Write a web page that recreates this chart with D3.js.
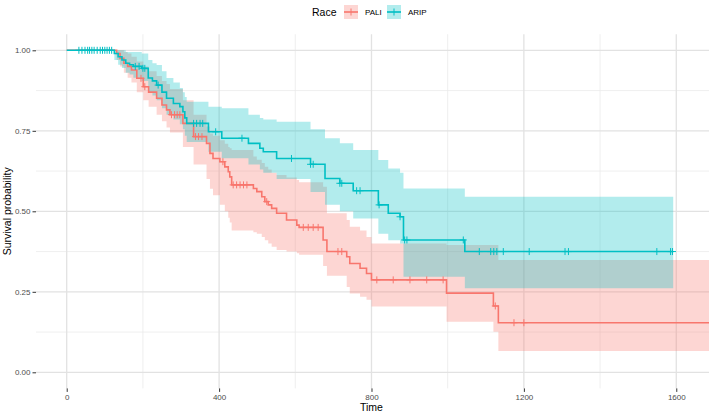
<!DOCTYPE html>
<html>
<head>
<meta charset="utf-8">
<script src="https://cdn.jsdelivr.net/npm/d3@7"></script>
<style>
  body { margin: 0; background: #fff; }
  svg text { font-family: "Liberation Sans", Arial, sans-serif; }
</style>
</head>
<body>
<div id="chart"></div>
<script>
// ---- data ----
const groups = ["PALI", "ARIP"];
const colors = ["#F8766D", "#00BFC4"];

// PALI: time of each step, survival after it, lower / upper CI
const paliTime  = [0, 131, 140, 150, 160, 170, 184, 201, 215, 236, 250, 262, 271, 305, 333, 367, 376, 384, 402, 415, 424, 428, 433, 490, 499, 512, 520, 529, 538, 551, 577, 604, 610, 673, 683, 735, 743, 770, 787, 800, 997, 1120, 1133];
const paliSurv  = [1, 0.99, 0.975, 0.96, 0.95, 0.939, 0.913, 0.887, 0.87, 0.851, 0.83, 0.815, 0.80, 0.773, 0.732, 0.711, 0.68, 0.664, 0.654, 0.638, 0.623, 0.607, 0.582, 0.571, 0.561, 0.545, 0.53, 0.52, 0.509, 0.494, 0.473, 0.457, 0.45, 0.411, 0.375, 0.359, 0.338, 0.323, 0.307, 0.287, 0.246, 0.206, 0.154];
const paliLower = [1, 0.97, 0.95, 0.93, 0.915, 0.90, 0.87, 0.845, 0.825, 0.80, 0.78, 0.76, 0.745, 0.70, 0.645, 0.60, 0.57, 0.55, 0.52, 0.50, 0.48, 0.465, 0.44, 0.435, 0.43, 0.42, 0.41, 0.40, 0.39, 0.38, 0.375, 0.37, 0.365, 0.33, 0.30, 0.265, 0.245, 0.235, 0.225, 0.204, 0.157, 0.126, 0.066];
const paliUpper = [1, 1, 1, 0.995, 0.99, 0.98, 0.965, 0.95, 0.935, 0.92, 0.905, 0.895, 0.88, 0.845, 0.80, 0.763, 0.742, 0.735, 0.721, 0.71, 0.70, 0.696, 0.69, 0.67, 0.66, 0.65, 0.638, 0.63, 0.62, 0.613, 0.605, 0.597, 0.59, 0.576, 0.494, 0.473, 0.452, 0.44, 0.42, 0.40, 0.395, 0.395, 0.349];
const paliEnd = 1700;
const paliCensor = [195, 205, 275, 283, 290, 297, 338, 346, 355, 410, 437, 446, 455, 464, 473, 525, 621, 634, 647, 660, 712, 722, 814, 857, 901, 945, 988, 1125, 1174, 1200];

// ARIP
const aripTime  = [0, 125, 135, 145, 155, 165, 175, 197, 214, 225, 236, 250, 262, 280, 297, 305, 310, 315, 372, 407, 477, 507, 516, 551, 640, 678, 717, 752, 818, 844, 875, 884, 1045];
const aripSurv  = [1, 0.99, 0.98, 0.97, 0.96, 0.955, 0.95, 0.944, 0.914, 0.905, 0.892, 0.87, 0.851, 0.835, 0.825, 0.809, 0.79, 0.773, 0.747, 0.727, 0.711, 0.696, 0.685, 0.664, 0.646, 0.602, 0.587, 0.564, 0.52, 0.494, 0.483, 0.411, 0.375];
const aripLower = [1, 0.97, 0.955, 0.945, 0.93, 0.925, 0.915, 0.905, 0.87, 0.86, 0.845, 0.82, 0.80, 0.785, 0.77, 0.755, 0.735, 0.715, 0.685, 0.665, 0.645, 0.63, 0.62, 0.60, 0.56, 0.52, 0.50, 0.478, 0.43, 0.41, 0.40, 0.297, 0.261];
const aripUpper = [1, 1, 1, 1, 0.995, 0.995, 0.995, 0.99, 0.97, 0.96, 0.954, 0.935, 0.914, 0.90, 0.883, 0.87, 0.855, 0.84, 0.825, 0.82, 0.80, 0.79, 0.785, 0.778, 0.755, 0.727, 0.711, 0.69, 0.659, 0.633, 0.62, 0.571, 0.545];
const aripEnd = 1592;
const aripCensor = [32, 40, 48, 55, 60, 66, 72, 80, 88, 94, 100, 106, 112, 118, 180, 190, 200, 205, 240, 333, 341, 350, 357, 391, 460, 590, 640, 647, 717, 722, 761, 770, 820, 875, 887, 893, 1041, 1083, 1113, 1121, 1129, 1146, 1214, 1308, 1317, 1549, 1585, 1590];

const xMajor = [0, 400, 800, 1200, 1600];
const xMinor = [200, 600, 1000, 1400];
const yMajor = [0, 0.25, 0.5, 0.75, 1];
const yMinor = [0.125, 0.375, 0.625, 0.875];

// ---- layout ----
const W = 709, H = 414;
const panel = {left: 36, right: 711.7, top: 34.2, bottom: 388.4};

const x = d3.scaleLinear().domain([-80.6, 1693]).range([panel.left, panel.right]);
const y = d3.scaleLinear().domain([-0.05, 1.05]).range([panel.bottom, panel.top]);

const svg = d3.select("#chart").append("svg").attr("width", W).attr("height", H);

svg.append("defs").append("clipPath").attr("id", "clip")
  .append("rect").attr("x", panel.left).attr("y", panel.top)
  .attr("width", panel.right - panel.left).attr("height", panel.bottom - panel.top);

// grid
const grid = svg.append("g");
grid.selectAll("line.ymin").data(yMinor).enter().append("line")
  .attr("x1", panel.left).attr("x2", panel.right)
  .attr("y1", d => y(d)).attr("y2", d => y(d))
  .attr("stroke", "#ebebeb").attr("stroke-width", 0.8);
grid.selectAll("line.xmin").data(xMinor).enter().append("line")
  .attr("y1", panel.top).attr("y2", panel.bottom)
  .attr("x1", d => x(d)).attr("x2", d => x(d))
  .attr("stroke", "#ebebeb").attr("stroke-width", 0.8);
grid.selectAll("line.ymaj").data(yMajor).enter().append("line")
  .attr("x1", panel.left).attr("x2", panel.right)
  .attr("y1", d => y(d)).attr("y2", d => y(d))
  .attr("stroke", "#e2e2e2").attr("stroke-width", 1.3);
grid.selectAll("line.xmaj").data(xMajor).enter().append("line")
  .attr("y1", panel.top).attr("y2", panel.bottom)
  .attr("x1", d => x(d)).attr("x2", d => x(d))
  .attr("stroke", "#e2e2e2").attr("stroke-width", 1.3);

// build series
function makeSeries(time, surv, lower, upper, end, censor) {
  let rows = time.map((t, i) => ({t: t, s: surv[i], lo: lower[i], up: upper[i]}));
  let last = rows[rows.length - 1];
  rows.push({t: end, s: last.s, lo: last.lo, up: last.up});
  let marks = censor.map(c => {
    let i = d3.bisectRight(time, c) - 1;
    return {t: c, s: surv[i]};
  });
  return {rows: rows, marks: marks};
}
const series = [
  makeSeries(paliTime, paliSurv, paliLower, paliUpper, paliEnd, paliCensor),
  makeSeries(aripTime, aripSurv, aripLower, aripUpper, aripEnd, aripCensor)
];

const plot = svg.append("g").attr("clip-path", "url(#clip)");

const area = d3.area().curve(d3.curveStepAfter)
  .x(d => x(d.t)).y0(d => y(d.lo)).y1(d => y(d.up));
const line = d3.line().curve(d3.curveStepAfter)
  .x(d => x(d.t)).y(d => y(d.s));

series.forEach((s, i) => {
  plot.append("path").datum(s.rows).attr("d", area)
    .attr("fill", colors[i]).attr("fill-opacity", 0.3);
});
series.forEach((s, i) => {
  plot.append("path").datum(s.rows).attr("d", line)
    .attr("fill", "none").attr("stroke", colors[i]).attr("stroke-width", 1.6);
  let g = plot.append("g").attr("stroke", colors[i]).attr("stroke-width", 1);
  g.selectAll("line.v").data(s.marks).enter().append("line")
    .attr("x1", d => x(d.t)).attr("x2", d => x(d.t))
    .attr("y1", d => y(d.s) - 3.5).attr("y2", d => y(d.s) + 3.5);
  g.selectAll("line.h").data(s.marks).enter().append("line")
    .attr("x1", d => x(d.t) - 3.5).attr("x2", d => x(d.t) + 3.5)
    .attr("y1", d => y(d.s)).attr("y2", d => y(d.s));
});

// axes
const xAxis = d3.axisBottom(x).tickValues(xMajor).tickSize(3.5).tickPadding(2)
  .tickFormat(d3.format("d"));
const yAxis = d3.axisLeft(y).tickValues(yMajor).tickSize(3.5).tickPadding(2)
  .tickFormat(d3.format(".2f"));

const gx = svg.append("g").attr("transform", `translate(0,${panel.bottom})`).call(xAxis);
const gy = svg.append("g").attr("transform", `translate(${panel.left},0)`).call(yAxis);
[gx, gy].forEach(g => {
  g.select(".domain").remove();
  g.selectAll(".tick line").attr("stroke", "#333").attr("stroke-width", 1);
  g.selectAll(".tick text").attr("fill", "#4d4d4d").style("font-size", "8px");
});

svg.append("text").attr("x", x(800)).attr("y", 411)
  .attr("text-anchor", "middle").style("font-size", "10.5px").attr("fill", "#000")
  .text("Time");
svg.append("text")
  .attr("transform", `translate(11,${(panel.top + panel.bottom) / 2}) rotate(-90)`)
  .attr("text-anchor", "middle").style("font-size", "10.5px").attr("fill", "#000")
  .text("Survival probability");

// legend
const legend = svg.append("g");
legend.append("text").attr("x", 312).attr("y", 15.5)
  .style("font-size", "10.5px").text("Race");
const keyX = [344, 387];
groups.forEach((name, i) => {
  let k = legend.append("g").attr("transform", `translate(${keyX[i]},5)`);
  k.append("rect").attr("width", 14).attr("height", 14)
    .attr("fill", colors[i]).attr("fill-opacity", 0.3);
  k.append("line").attr("x1", 0).attr("x2", 14).attr("y1", 7).attr("y2", 7)
    .attr("stroke", colors[i]).attr("stroke-width", 1.6);
  k.append("line").attr("x1", 7).attr("x2", 7).attr("y1", 3.5).attr("y2", 10.5)
    .attr("stroke", colors[i]).attr("stroke-width", 1);
  legend.append("text").attr("x", keyX[i] + 21).attr("y", 14.5)
    .style("font-size", "8px").attr("fill", "#000").text(name);
});
</script>
</body>
</html>
